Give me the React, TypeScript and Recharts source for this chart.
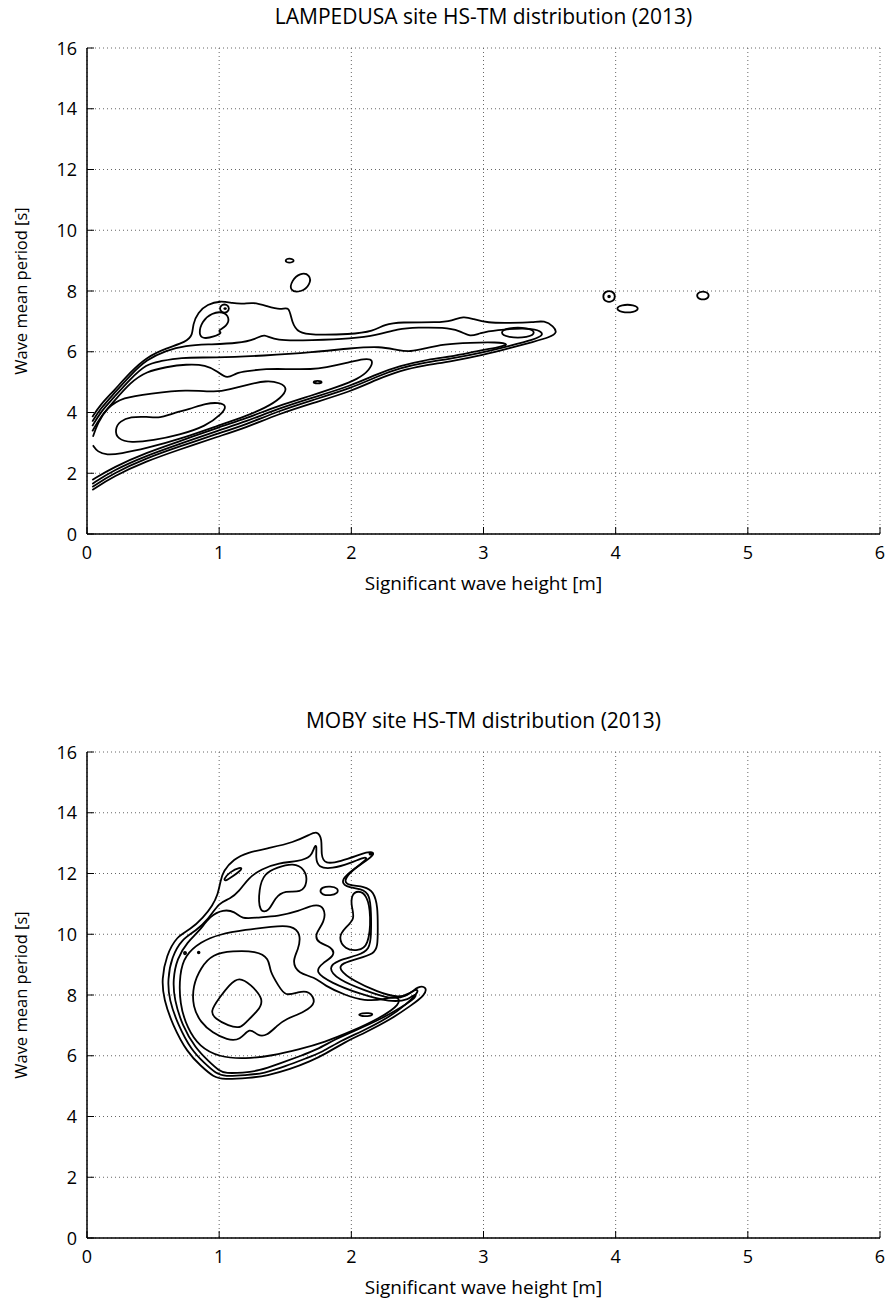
import React from 'react';
import { ScatterChart, Scatter, XAxis, YAxis, CartesianGrid } from 'recharts';

type P = [number, number];

const xTicks = [0, 1, 2, 3, 4, 5, 6];
const yTicks = [0, 2, 4, 6, 8, 10, 12, 14, 16];
const titleTop = 'LAMPEDUSA site HS-TM distribution (2013)';
const titleBottom = 'MOBY site HS-TM distribution (2013)';
const xLabel = 'Significant wave height [m]';
const yLabel = 'Wave mean period [s]';

// ---------- LAMPEDUSA contours (Hs [m], Tm [s]) ----------
const lampT1: P[] = [[0.04,1.45],[0.2,1.9],[0.45,2.4],[0.7,2.78],[1.0,3.22],[1.2,3.5],[1.45,3.95],[1.7,4.3],[2.0,4.7],[2.2,5.1],[2.37,5.38],[2.55,5.55],[2.75,5.68],[3.0,5.9],[3.2,6.12],[3.38,6.33],[3.5,6.48],[3.56,6.62],[3.53,6.84],[3.46,7.03],[3.38,6.97],[3.2,6.95],[3.03,6.95],[2.92,7.08],[2.85,7.17],[2.76,7.02],[2.66,6.96],[2.37,6.98],[2.25,6.9],[2.17,6.68],[1.99,6.57],[1.7,6.55],[1.6,6.62],[1.55,6.95],[1.53,7.52],[1.47,7.36],[1.36,7.5],[1.26,7.63],[1.18,7.57],[1.1,7.6],[1.01,7.68],[0.91,7.56],[0.84,7.3],[0.8,6.9],[0.8,6.55],[0.75,6.32],[0.6,6.12],[0.45,5.82],[0.33,5.34],[0.2,4.7],[0.1,4.25],[0.04,3.85]];
const lampT2: P[] = [[0.04,1.55],[0.2,2.0],[0.45,2.5],[0.7,2.88],[1.0,3.32],[1.2,3.6],[1.45,4.05],[1.7,4.4],[2.0,4.8],[2.2,5.2],[2.37,5.47],[2.55,5.64],[2.75,5.77],[3.0,5.98],[3.2,6.2],[3.38,6.4],[3.46,6.55],[3.42,6.73],[3.3,6.78],[3.1,6.72],[2.97,6.62],[2.9,6.48],[2.82,6.7],[2.7,6.8],[2.5,6.8],[2.35,6.75],[2.2,6.55],[2.0,6.43],[1.7,6.38],[1.42,6.35],[1.34,6.6],[1.28,6.42],[1.15,6.28],[0.9,6.24],[0.75,6.2],[0.6,6.05],[0.45,5.74],[0.33,5.24],[0.2,4.6],[0.1,4.12],[0.04,3.7]];
const lampT3: P[] = [[0.04,1.65],[0.2,2.1],[0.45,2.58],[0.7,2.96],[1.0,3.42],[1.2,3.7],[1.45,4.13],[1.7,4.48],[2.0,4.88],[2.2,5.28],[2.37,5.54],[2.55,5.72],[2.75,5.84],[2.95,6.02],[3.12,6.15],[3.2,6.25],[3.1,6.32],[2.9,6.3],[2.7,6.25],[2.55,6.1],[2.45,6.0],[2.35,6.05],[2.22,6.18],[2.0,6.12],[1.71,5.98],[1.34,5.87],[0.96,5.8],[0.7,5.82],[0.55,5.68],[0.45,5.6],[0.33,5.12],[0.2,4.48],[0.1,4.0],[0.04,3.55]];
const lampT4: P[] = [[0.04,1.78],[0.2,2.2],[0.45,2.68],[0.7,3.05],[1.0,3.52],[1.2,3.8],[1.45,4.22],[1.7,4.56],[1.9,4.85],[2.05,5.1],[2.14,5.4],[2.17,5.75],[2.1,5.78],[1.97,5.64],[1.8,5.48],[1.71,5.42],[1.5,5.43],[1.36,5.44],[1.2,5.36],[1.13,5.31],[1.06,5.09],[0.99,5.35],[0.9,5.57],[0.75,5.59],[0.6,5.5],[0.45,5.35],[0.33,5.0],[0.2,4.35],[0.1,3.85],[0.04,3.38]];
const lampI2: P[] = [[0.045,2.92],[0.08,2.7],[0.15,2.6],[0.25,2.64],[0.45,2.82],[0.7,3.12],[1.0,3.58],[1.2,3.88],[1.35,4.15],[1.47,4.48],[1.52,4.8],[1.46,4.98],[1.36,5.06],[1.2,4.9],[1.08,4.76],[0.98,4.66],[0.75,4.76],[0.48,4.62],[0.27,4.5],[0.15,4.15],[0.08,3.65],[0.045,3.2]];
const lampI1: P[] = [[0.21,3.45],[0.23,3.12],[0.33,3.0],[0.5,3.08],[0.7,3.26],[0.9,3.55],[1.02,3.95],[1.06,4.22],[1.0,4.33],[0.9,4.3],[0.78,4.12],[0.63,3.95],[0.56,3.82],[0.45,3.86],[0.33,3.86],[0.25,3.72]];
const lampTongue: P[] = [[0.843,6.57],[0.869,7.01],[0.945,7.28],[1.03,7.33],[1.08,7.12],[1.06,6.84],[0.98,6.68],[1.03,6.64],[0.96,6.49],[0.88,6.42]];
const lampRing1: P[] = [[1.0,7.42],[1.02,7.56],[1.06,7.56],[1.08,7.42],[1.06,7.28],[1.02,7.28]];
const lampDot1: P[] = [[1.035,7.42],[1.045,7.44],[1.055,7.42],[1.045,7.4]];
const lampBlob1: P[] = [[1.53,8.0],[1.55,8.35],[1.61,8.6],[1.69,8.55],[1.69,8.2],[1.62,7.95]];
const lampBlob2: P[] = [[1.49,9.0],[1.53,9.1],[1.58,9.0],[1.53,8.9]];
const lampBlob3: P[] = [[3.12,6.63],[3.18,6.8],[3.34,6.8],[3.4,6.63],[3.34,6.46],[3.18,6.46]];
const lampBlob4: P[] = [[1.7,5.0],[1.745,5.06],[1.79,5.0],[1.745,4.94]];
const lampRing2: P[] = [[3.9,7.82],[3.92,8.0],[3.98,8.0],[4.0,7.82],[3.98,7.64],[3.92,7.64]];
const lampDot2: P[] = [[3.94,7.82],[3.95,7.86],[3.96,7.82],[3.95,7.78]];
const lampBlob5: P[] = [[4.0,7.42],[4.04,7.55],[4.14,7.55],[4.18,7.42],[4.14,7.29],[4.04,7.29]];
const lampBlob6: P[] = [[4.61,7.85],[4.63,7.98],[4.69,7.98],[4.71,7.85],[4.69,7.72],[4.63,7.72]];

// ---------- MOBY contours ----------
const mobyB1: P[] = [[1.74,13.4],[1.78,13.15],[1.77,12.6],[1.8,12.3],[1.92,12.4],[2.05,12.6],[2.13,12.72],[2.18,12.68],[2.14,12.5],[2.0,12.1],[1.94,11.75],[1.98,11.6],[2.1,11.58],[2.17,11.4],[2.2,10.9],[2.2,10.2],[2.2,9.6],[2.17,9.35],[2.05,9.2],[1.93,9.05],[1.9,8.85],[2.02,8.45],[2.2,8.1],[2.35,7.9],[2.45,8.05],[2.5,8.28],[2.57,8.28],[2.56,8.0],[2.45,7.65],[2.3,7.2],[2.1,6.75],[1.95,6.45],[1.8,6.05],[1.69,5.82],[1.54,5.56],[1.36,5.34],[1.23,5.27],[1.03,5.22],[0.96,5.29],[0.86,5.67],[0.76,6.1],[0.65,6.99],[0.58,7.86],[0.565,8.52],[0.6,9.3],[0.68,9.94],[0.78,10.15],[0.88,10.55],[0.95,10.95],[0.99,11.3],[1.01,11.75],[1.03,12.08],[1.11,12.47],[1.21,12.69],[1.39,12.85],[1.56,13.02],[1.69,13.29]];
const mobyB2: P[] = [[1.0,11.05],[1.08,11.15],[1.15,11.4],[1.22,11.85],[1.32,12.15],[1.45,12.35],[1.6,12.4],[1.7,12.55],[1.72,12.9],[1.74,12.95],[1.73,12.5],[1.75,12.2],[1.85,12.15],[2.0,12.35],[2.1,12.55],[2.13,12.5],[2.02,12.15],[1.92,11.8],[1.95,11.55],[2.08,11.5],[2.14,11.3],[2.15,10.7],[2.15,10.0],[2.14,9.5],[2.05,9.3],[1.9,9.15],[1.82,8.9],[1.9,8.5],[2.1,8.15],[2.3,7.85],[2.42,7.95],[2.48,8.2],[2.52,8.15],[2.42,7.7],[2.28,7.25],[2.08,6.8],[1.92,6.5],[1.78,6.12],[1.66,5.92],[1.5,5.65],[1.34,5.42],[1.2,5.36],[1.04,5.32],[0.98,5.4],[0.89,5.75],[0.79,6.18],[0.69,7.0],[0.62,7.86],[0.61,8.5],[0.64,9.25],[0.72,9.85],[0.82,10.1],[0.92,10.5]];
const mobyB3: P[] = [[0.93,10.6],[1.03,10.82],[1.12,10.75],[1.17,10.5],[1.28,10.55],[1.45,10.6],[1.6,10.75],[1.72,11.0],[1.8,10.9],[1.8,10.4],[1.72,10.0],[1.75,9.7],[1.85,9.6],[1.88,9.3],[1.78,9.05],[1.72,8.75],[1.85,8.4],[2.05,8.05],[2.3,7.75],[2.44,7.85],[2.48,8.05],[2.5,7.95],[2.38,7.6],[2.22,7.2],[2.04,6.85],[1.88,6.55],[1.74,6.2],[1.62,6.0],[1.46,5.75],[1.3,5.5],[1.18,5.44],[1.05,5.42],[1.0,5.5],[0.92,5.82],[0.82,6.25],[0.72,7.0],[0.66,7.86],[0.65,8.5],[0.68,9.2],[0.76,9.75],[0.85,10.1]];
const mobyM1: P[] = [[0.7,8.7],[0.74,9.3],[0.86,9.75],[1.0,10.0],[1.2,10.15],[1.4,10.25],[1.55,10.3],[1.62,10.0],[1.6,9.5],[1.55,9.1],[1.6,8.7],[1.72,8.6],[1.8,8.3],[1.95,8.0],[2.1,7.8],[2.25,7.85],[2.35,8.0],[2.38,7.7],[2.2,7.2],[2.0,6.8],[1.8,6.45],[1.6,6.2],[1.4,6.0],[1.2,5.9],[1.0,5.95],[0.85,6.3],[0.76,6.9],[0.7,7.7]];
const mobyM2: P[] = [[0.8,7.6],[0.8,8.3],[0.86,8.9],[0.95,9.35],[1.1,9.45],[1.28,9.45],[1.38,9.2],[1.38,8.8],[1.45,8.3],[1.5,7.95],[1.6,8.1],[1.68,8.15],[1.74,7.75],[1.65,7.45],[1.5,7.2],[1.44,7.0],[1.36,6.65],[1.29,6.65],[1.23,6.95],[1.16,6.5],[1.06,6.52],[0.95,6.75],[0.86,7.1]];
const mobyCore: P[] = [[0.93,7.45],[1.0,7.9],[1.08,8.35],[1.15,8.6],[1.24,8.35],[1.34,7.85],[1.3,7.5],[1.2,7.1],[1.16,6.9],[1.07,6.98],[0.97,7.22]];
const mobyU1: P[] = [[1.03,11.8],[1.08,12.05],[1.16,12.22],[1.18,12.15],[1.1,11.9],[1.05,11.75]];
const mobyU2: P[] = [[1.3,10.7],[1.3,11.5],[1.34,12.0],[1.44,12.2],[1.56,12.35],[1.65,12.15],[1.67,11.7],[1.62,11.35],[1.5,11.45],[1.42,11.2],[1.38,10.75]];
const mobyU3: P[] = [[1.76,11.42],[1.78,11.55],[1.84,11.58],[1.9,11.52],[1.9,11.35],[1.84,11.27],[1.78,11.3]];
const mobyU4: P[] = [[2.0,11.3],[2.05,11.45],[2.12,11.3],[2.15,10.6],[2.13,9.6],[2.05,9.45],[1.95,9.5],[1.9,9.9],[1.95,10.2],[2.03,10.5],[2.0,10.9]];
const mobyBlob1: P[] = [[2.05,7.35],[2.08,7.4],[2.13,7.41],[2.17,7.37],[2.14,7.3],[2.08,7.3]];
const mobyDot1: P[] = [[0.73,9.38],[0.74,9.44],[0.755,9.38],[0.74,9.32]];
const mobyDot2: P[] = [[0.835,9.4],[0.845,9.44],[0.855,9.4],[0.845,9.36]];
const mobyDot3: P[] = [[2.13,12.65],[2.15,12.7],[2.17,12.65],[2.15,12.6]];

const lampOpen = [lampT1, lampT2, lampT3, lampT4, lampI2];
const lampClosed = [lampI1, lampTongue, lampRing1, lampDot1, lampBlob1, lampBlob2, lampBlob3, lampBlob4, lampRing2, lampDot2, lampBlob5, lampBlob6];
const mobyOpen: P[][] = [];
const mobyClosed = [mobyB1, mobyB2, mobyB3, mobyM1, mobyM2, mobyCore, mobyU1, mobyU2, mobyU3, mobyU4, mobyBlob1, mobyDot1, mobyDot2, mobyDot3];

const FONT = '"Open Sans", "DejaVu Sans", sans-serif';
const TICK_FS = 18;
const toPts = (arr: P[]) => arr.map(([x, y]) => ({ x, y }));
const NoShape = () => <g />;

const XTickBottom = (props: any) => {
  const { x, y, payload } = props;
  return (
    <g>
      <line x1={x} y1={y} x2={x} y2={y - 7} stroke="#000" strokeWidth={1} />
      <text x={x} y={y + 25} textAnchor="middle" fontSize={TICK_FS} fontFamily={FONT} fill="#000">{payload.value}</text>
    </g>
  );
};
const XTickTop = (props: any) => {
  const { x, y } = props;
  return <line x1={x} y1={y} x2={x} y2={y + 7} stroke="#000" strokeWidth={1} />;
};
const YTickLeft = (props: any) => {
  const { x, y, payload } = props;
  return (
    <g>
      <line x1={x} y1={y} x2={x + 7} y2={y} stroke="#000" strokeWidth={1} />
      <text x={x - 10} y={y + 6.5} textAnchor="end" fontSize={TICK_FS} fontFamily={FONT} fill="#000">{payload.value}</text>
    </g>
  );
};
const YTickRight = (props: any) => {
  const { x, y } = props;
  return <line x1={x} y1={y} x2={x - 7} y2={y} stroke="#000" strokeWidth={1} />;
};

function Panel({ top, title, open, closed }: { top: number; title: string; open: P[][]; closed: P[][] }) {
  return (
    <div style={{ position: 'absolute', left: 0, top, width: 891, height: 650 }}>
      <div style={{ position: 'absolute', left: 87, width: 793, top: 2, textAlign: 'center', fontFamily: FONT, fontSize: 21, color: '#000', whiteSpace: 'nowrap' }}>{title}</div>
      <div style={{ position: 'absolute', left: 87, width: 793, top: 570, textAlign: 'center', fontFamily: FONT, fontSize: 19, color: '#000', whiteSpace: 'nowrap' }}>{xLabel}</div>
      <div style={{ position: 'absolute', left: 20, top: 291, transform: 'translate(-50%, -50%) rotate(-90deg)', fontFamily: FONT, fontSize: 16.5, color: '#000', whiteSpace: 'nowrap' }}>{yLabel}</div>
      <ScatterChart width={891} height={650} margin={{ top: 48, right: 11, bottom: 56, left: 27 }}>
        <CartesianGrid stroke="#666" strokeDasharray="1 3" strokeWidth={1} />
        <XAxis type="number" dataKey="x" domain={[0, 6]} ticks={xTicks} interval={0} height={60} tickSize={0} tickMargin={0} tick={<XTickBottom />} axisLine={{ stroke: '#000', strokeWidth: 1.5 }} allowDataOverflow />
        <XAxis xAxisId="t" orientation="top" type="number" dataKey="x" domain={[0, 6]} ticks={xTicks} interval={0} height={0} tickSize={0} tickMargin={0} tick={<XTickTop />} axisLine={{ stroke: '#000', strokeWidth: 1.5 }} allowDataOverflow />
        <YAxis type="number" dataKey="y" domain={[0, 16]} ticks={yTicks} interval={0} width={60} tickSize={0} tickMargin={0} tick={<YTickLeft />} axisLine={{ stroke: '#000', strokeWidth: 1.5 }} allowDataOverflow />
        <YAxis yAxisId="r" orientation="right" type="number" dataKey="y" domain={[0, 16]} ticks={yTicks} interval={0} width={0} tickSize={0} tickMargin={0} tick={<YTickRight />} axisLine={{ stroke: '#000', strokeWidth: 1.5 }} allowDataOverflow />
        {open.map((c, i) => (
          <Scatter key={'o' + i} data={toPts(c)} line={{ stroke: '#000', strokeWidth: 1.8 }} lineJointType="basis" shape={NoShape} isAnimationActive={false} />
        ))}
        {closed.map((c, i) => (
          <Scatter key={'c' + i} data={toPts(c)} line={{ stroke: '#000', strokeWidth: 1.8 }} lineJointType="basisClosed" shape={NoShape} isAnimationActive={false} />
        ))}
      </ScatterChart>
    </div>
  );
}

export default function App() {
  return (
    <div style={{ position: 'absolute', left: 0, top: 0, width: 891, height: 1301, background: '#fff' }}>
      <Panel top={0} title={titleTop} open={lampOpen} closed={lampClosed} />
      <Panel top={704} title={titleBottom} open={mobyOpen} closed={mobyClosed} />
    </div>
  );
}
